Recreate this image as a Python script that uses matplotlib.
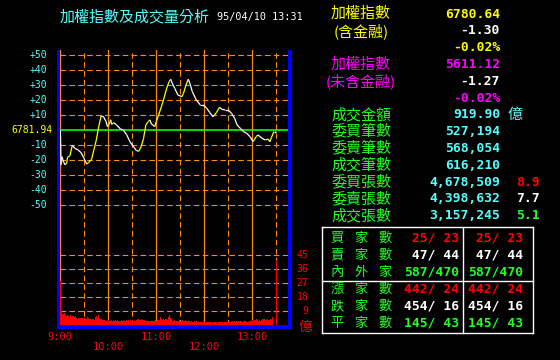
import numpy as np
import matplotlib.pyplot as plt
from matplotlib.collections import LineCollection
from matplotlib.patches import Rectangle
from matplotlib.lines import Line2D

W, H = 560, 360
CJK = ["Noto Sans CJK TC", "DejaVu Sans"]
MONO = "DejaVu Sans Mono"

CYAN = "#55ffff"
YELLOW = "#ffff00"
MAGENTA = "#ff00ff"
GREEN = "#22ff22"
RED = "#ff0000"
WHITE = "#ffffff"
ORANGE = "#ff8a10"
BLUE = "#0000ff"

# --- index change vs previous close (6781.94), minutes after 09:00 ---
ref_close = "6781.94"
idx_min = [0, 1, 2, 4, 6, 8, 9, 12, 15, 18, 22, 26, 29, 33, 35, 39, 42, 45, 48, 51,
           54, 57, 59, 61, 63, 64, 67, 70, 75, 79, 83, 87, 91, 95, 98, 101, 104, 107, 110, 112,
           114, 116, 118, 120, 125, 129, 133, 136, 138, 140, 143, 147, 152, 154, 157, 160, 162, 165, 170, 175,
           179, 183, 187, 191, 195, 199, 202, 206, 210, 214, 218, 221, 225, 229, 233, 237, 241, 245, 247, 252,
           256, 260, 262, 264, 267, 269, 270]
idx_chg = [0, -23, -17.6, -21, -23, -22, -18, -17, -10, -12, -13, -15, -18, -22.5, -21.7, -19.5, -13, -6.5, 2.4, 9.5,
           9, 6, 2.4, 4, 7, 4, 5, 3.7, 1, 0, -3, -7.6, -10.5, -13.5, -14, -11, -5.6, 3.7, 5.8, 6.9,
           4, 3.5, 2.4, 5.8, 13.5, 20.2, 28, 32.4, 34, 31.3, 28, 23.5, 22.4, 24.7, 30, 34, 31.3, 25.8, 20.2, 16.9,
           16.9, 14.7, 11.7, 9, 11.7, 15.3, 14, 13.5, 13.5, 11.3, 7.9, 3.5, 1.3, -0.9, -2, -4.2, -7.6, -4.2, -3.1, -5.3,
           -6.4, -6, -7.6, -4.7, -0.9, -0.9, -1.3]

# --- volume per minute (億), 09:00 .. 13:25, plus closing auction at 13:30 ---
vol = [
    28.5, 9.3, 7.5, 6.7, 7.2, 7.8, 6.5, 6.1, 7.0, 6.7, 5.8, 5.3, 6.4, 6.1, 5.5, 6.1, 5.9, 5.3, 5.0, 5.7, 4.9, 4.3, 4.6, 5.0, 4.4, 4.7, 4.5, 4.7, 4.1, 4.0,
    4.6, 4.7, 4.3, 6.1, 5.2, 4.7, 4.2, 4.0, 3.8, 3.6, 3.9, 4.1, 3.7, 4.7, 5.2, 5.7, 5.0, 6.7, 5.4, 4.7, 4.2, 3.9, 3.3, 2.6, 3.4, 3.6, 3.0, 2.7, 3.2, 2.9,
    3.1, 2.6, 3.0, 2.8, 3.3, 2.9, 3.2, 2.7, 3.0, 3.4, 2.8, 3.1, 2.9, 3.5, 3.0, 2.6, 3.2, 3.0, 2.8, 3.3, 2.7, 3.0, 3.3, 2.9, 2.6, 3.1, 2.8, 3.4, 3.0, 2.7,
    3.2, 2.9, 2.5, 3.0, 2.8, 3.3, 3.9, 4.0, 3.6, 3.8, 3.4, 4.0, 3.7, 3.2, 3.6, 3.3, 3.0, 2.8, 2.6, 2.9, 2.7, 2.5, 2.8, 2.6, 3.0, 2.7, 2.5, 2.9, 3.1, 3.3,
    2.9, 3.2, 3.6, 3.1, 4.4, 5.3, 3.8, 3.5, 4.0, 4.0, 3.4, 3.9, 4.2, 3.6, 4.3, 5.4, 6.7, 5.0, 3.9, 3.5, 3.0, 2.8, 3.2, 2.9, 2.6, 3.0, 2.7, 2.9, 3.1, 2.8,
    2.6, 2.9, 3.2, 2.7, 2.5, 2.9, 3.3, 2.8, 2.6, 2.4, 2.8, 2.5, 2.3, 2.7, 2.5, 2.2, 2.4, 2.6, 2.3, 2.1, 2.5, 2.3, 2.0, 2.4, 2.2, 1.9, 2.3, 2.1, 2.0, 2.2,
    1.8, 2.1, 2.4, 2.0, 1.9, 2.2, 1.8, 2.0, 2.3, 1.9, 1.7, 2.1, 1.9, 2.2, 1.8, 2.0, 1.7, 1.9, 2.1, 1.8, 2.0, 2.2, 1.9, 1.7, 2.0, 1.8, 2.1, 1.9, 2.2, 2.4,
    2.0, 2.3, 2.1, 2.5, 2.2, 2.6, 2.4, 2.8, 2.3, 2.5, 2.7, 2.3, 2.6, 2.4, 2.2, 2.5, 2.8, 2.4, 2.6, 2.9, 2.5, 2.7, 2.4, 2.2, 2.6, 2.3, 2.5, 2.8, 3.0, 2.7,
    3.2, 2.9, 3.5, 3.1, 3.4, 3.8, 3.2, 2.9, 3.3, 3.6, 3.0, 3.4, 3.9, 3.3, 3.7, 4.1, 3.5, 3.2, 3.8, 4.2, 3.6, 3.4, 4.0, 3.7, 4.4, 5.3,
]
close_min = 270
close_vol = 42.0

price_ticks = [50, 40, 30, 20, 10, -10, -20, -30, -40, -50]
vol_ticks = [45, 36, 27, 18, 9]
time_ticks = [0, 60, 120, 180, 240]
time_labels = ["9:00", "10:00", "11:00", "12:00", "13:00"]
half_ticks = [30, 90, 150, 210, 270]

# --- right side quote panel ---
info_labels = ["加權指數", "(含金融)", "", "加權指數", "(未含金融)", "", "成交金額",
               "委買筆數", "委賣筆數", "成交筆數", "委買張數", "委賣張數", "成交張數"]
info_label_colors = [YELLOW, YELLOW, None, MAGENTA, MAGENTA, None] + [GREEN] * 7
info_values = ["6780.64", "-1.30", "-0.02%", "5611.12", "-1.27", "-0.02%", "919.90",
               "527,194", "568,054", "616,210", "4,678,509", "4,398,632", "3,157,245"]
info_value_colors = [YELLOW, WHITE, YELLOW, MAGENTA, WHITE, MAGENTA] + [CYAN] * 7
ratio_rows = {10: ("8.9", RED), 11: ("7.7", WHITE), 12: ("5.1", GREEN)}

tbl_labels = ["買家數", "賣家數", "內外家", "漲家數", "跌家數", "平家數"]
tbl_left = [" 25/ 23", " 47/ 44", "587/470", "442/ 24", "454/ 16", "145/ 43"]
tbl_right = [" 25/ 23", " 47/ 44", "587/470", "442/ 24", "454/ 16", "145/ 43"]
tbl_colors = [RED, WHITE, GREEN, RED, WHITE, GREEN]


def fx(x):
    return x / W


def fy(y):
    return 1 - y / H


fig = plt.figure(figsize=(W / 100, H / 100), dpi=100, facecolor="black")

# plot area: 09:00 at x=60.3px, right edge 288px, top 50px, bottom 325.3px
left_px, right_px, top_px, bot_px = 60.3, 288.0, 50.0, 325.3
ax = fig.add_axes([fx(left_px), fy(bot_px), (right_px - left_px) / W, (bot_px - top_px) / H])
ax.set_facecolor("none")
ax.set_xlim(0, (right_px - left_px) * 1.25)
ax.set_ylim(-130, 53.5)
ax2 = ax.twinx()
ax2.set_ylim(0, (bot_px - top_px) / 1.556)
for a in (ax, ax2):
    a.set_xticks([])
    a.set_yticks([])
    for s in a.spines.values():
        s.set_visible(False)

# grid
for v in price_ticks:
    ax.axhline(v, color=ORANGE, lw=0.8, ls=(0, (5, 3)), zorder=1)
for v in vol_ticks:
    ax2.axhline(v, color=ORANGE, lw=0.8, ls=(0, (5, 3)), zorder=1)
for t in time_ticks:
    ax.axvline(t, color=ORANGE, lw=0.9, zorder=1)
for t in half_ticks:
    ax.axvline(t, color=ORANGE, lw=0.8, ls=(0, (5, 3)), zorder=1)
ax.axhline(0, color="#00ff00", lw=1.2, zorder=2)

# volume bars
ax2.bar(np.arange(len(vol)), vol, width=1.0, align="edge", color=RED, linewidth=0, zorder=3)
ax2.bar([close_min], [close_vol], width=0.9, align="edge", color=RED, linewidth=0, zorder=3)

# index line: yellow rising, white falling
xs = np.array(idx_min, dtype=float)
ys = np.array(idx_chg, dtype=float)
segs = np.stack([np.column_stack([xs[:-1], ys[:-1]]), np.column_stack([xs[1:], ys[1:]])], axis=1)
cols = [YELLOW if d > 0 else WHITE for d in np.diff(ys)]
ax.add_collection(LineCollection(segs, colors=cols, linewidths=0.9, zorder=4))

# blue frame (left, right, bottom)
for x0, y0, w, h in [(57.3, 50, 3.0, 278.7), (288.0, 50, 3.5, 278.7), (57.3, 325.3, 234.2, 3.4)]:
    fig.add_artist(Rectangle((fx(x0), fy(y0 + h)), w / W, h / H, transform=fig.transFigure,
                             color=BLUE, lw=0, zorder=5))

# price axis labels
for v in price_ticks:
    yp = 130.3 - v * 1.5
    fig.text(fx(47), fy(yp), f"{v:+d}", color=CYAN, fontsize=7, family=MONO, ha="right", va="center")
fig.text(fx(52.5), fy(130.3), ref_close, color=YELLOW, fontsize=7, family=MONO, ha="right", va="center")

# volume axis labels
for v in vol_ticks:
    yp = bot_px - v * 1.556
    fig.text(fx(308.5), fy(yp), str(v), color=RED, fontsize=7, family=MONO, ha="right", va="center")
fig.text(fx(305), fy(327), "億", color=RED, fontsize=10, family=CJK, ha="center", va="center")

# time labels
for i, (t, lab) in enumerate(zip(time_ticks, time_labels)):
    xp = left_px + t / 1.25
    yp = 337 if i % 2 == 0 else 347
    fig.text(fx(xp), fy(yp), lab, color=RED, fontsize=7.5, family=MONO, ha="center", va="center")

# title
fig.text(fx(60), fy(17), "加權指數及成交量分析", color=CYAN, fontsize=10.8, family=CJK, ha="left", va="center")
fig.text(fx(217), fy(17), "95/04/10 13:31", color=WHITE, fontsize=7.3, family=MONO, ha="left", va="center")

# right quote panel
for i, (lab, lc, val, vc) in enumerate(zip(info_labels, info_label_colors, info_values, info_value_colors)):
    yp = 14 + 16.8 * i
    if lab:
        fig.text(fx(361), fy(yp), lab, color=lc, fontsize=10.8, family=CJK, ha="center", va="center")
    fig.text(fx(500), fy(yp), val, color=vc, fontsize=9.4, family=MONO, weight="bold",
             ha="right", va="center")
    if i in ratio_rows:
        txt, c = ratio_rows[i]
        fig.text(fx(540), fy(yp), txt, color=c, fontsize=9.4, family=MONO, weight="bold",
                 ha="right", va="center")
fig.text(fx(508), fy(14 + 16.8 * 6), "億", color=CYAN, fontsize=10.8, family=CJK, ha="left", va="center")

# bottom table
box = [(321.7, 227.3, 533.3, 227.3), (533.3, 227.3, 533.3, 333.3), (533.3, 333.3, 321.7, 333.3),
       (321.7, 333.3, 321.7, 227.3), (463.3, 227.3, 463.3, 333.3), (321.7, 280.7, 533.3, 280.7)]
for x0, y0, x1, y1 in box:
    fig.add_artist(Line2D([fx(x0), fx(x1)], [fy(y0), fy(y1)], transform=fig.transFigure,
                          color=WHITE, lw=1.0))
row_y = [238.3, 255.3, 272.3, 289.3, 306.3, 323.3]
for yp, lab, l, r, c in zip(row_y, tbl_labels, tbl_left, tbl_right, tbl_colors):
    for k, ch in enumerate(lab):
        fig.text(fx(337 + 24 * k), fy(yp), ch, color=GREEN, fontsize=9.5, family=CJK,
                 ha="center", va="center")
    fig.text(fx(459), fy(yp), l, color=c, fontsize=9.4, family=MONO, weight="bold", ha="right", va="center")
    fig.text(fx(523.5), fy(yp), r, color=c, fontsize=9.4, family=MONO, weight="bold", ha="right", va="center")

fig.savefig("out.png", dpi=100, facecolor="black")
